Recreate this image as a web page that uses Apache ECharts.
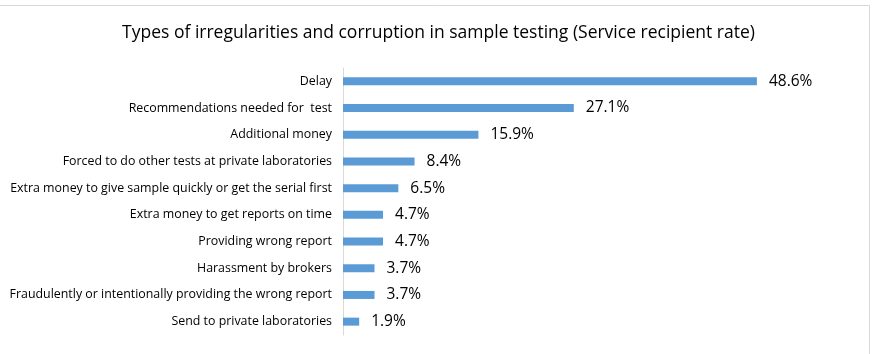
<!DOCTYPE html>
<html><head><meta charset="utf-8">
<script src="https://cdn.jsdelivr.net/npm/echarts@6/dist/echarts.min.js"></script>
<style>html,body{margin:0;padding:0;background:#fff}#c{width:877px;height:354px}</style>
</head><body><div id="c"></div>
<script>
const categories = [
  "Delay",
  "Recommendations needed for  test",
  "Additional money",
  "Forced to do other tests at private laboratories",
  "Extra money to give sample quickly or get the serial first",
  "Extra money to get reports on time",
  "Providing wrong report",
  "Harassment by brokers",
  "Fraudulently or intentionally providing the wrong report",
  "Send to private laboratories"
];
const values = [48.6, 27.1, 15.9, 8.4, 6.5, 4.7, 4.7, 3.7, 3.7, 1.9];
const titleText = "Types of irregularities and corruption in sample testing (Service recipient rate)";

const chart = echarts.init(document.getElementById('c'), null, {renderer: 'canvas'});
chart.setOption({
  animation: false,
  title: {
    text: titleText, left: 'center', top: 19,
    textStyle: {fontFamily: 'Open Sans', fontSize: 17.5, fontWeight: 'normal', color: '#000'}
  },
  graphic: [{
    type: 'polyline', silent: true,
    shape: {points: [[0, 5.5], [869.5, 5.5], [869.5, 354]]},
    style: {stroke: '#d9d9d9', lineWidth: 1, fill: null}
  }],
  grid: {left: 343, right: 23, top: 68, bottom: 19, containLabel: false},
  xAxis: {type: 'value', min: 0, max: 60, show: false},
  yAxis: {
    type: 'category', inverse: true, data: categories,
    axisLine: {show: true, lineStyle: {color: '#d9d9d9'}},
    axisTick: {show: false},
    axisLabel: {fontFamily: 'Open Sans', fontSize: 12.4, color: '#000', margin: 11}
  },
  series: [{
    type: 'bar', data: values, barWidth: 8,
    itemStyle: {color: '#5b9bd5'},
    label: {
      show: true, position: 'right', distance: 12,
      formatter: p => p.value.toFixed(1) + '%',
      fontFamily: 'Open Sans', fontSize: 15.5, color: '#000'
    }
  }]
});
</script></body></html>
